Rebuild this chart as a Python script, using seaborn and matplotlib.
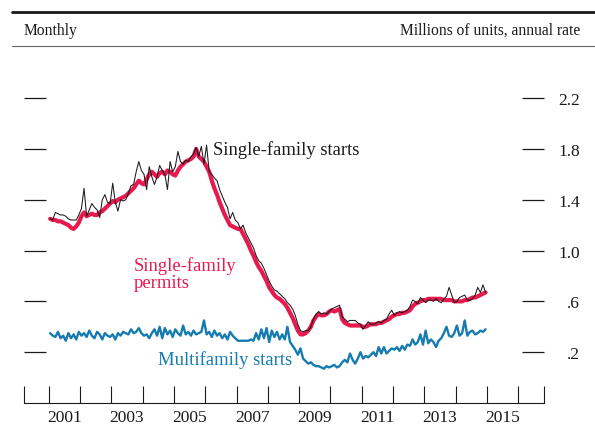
import numpy as np
import pandas as pd
import matplotlib.pyplot as plt
import seaborn as sns
from matplotlib.lines import Line2D

# 数据准备 (monthly, Jan 2001 - Dec 2014, millions of units, annual rate)
years = list(range(2001, 2015))

sf_starts = [
    1.25, 1.24, 1.30, 1.29, 1.28, 1.28, 1.27, 1.25, 1.24, 1.24, 1.24, 1.28,  # 2001
    1.33, 1.49, 1.27, 1.32, 1.37, 1.34, 1.32, 1.26, 1.40, 1.44, 1.38, 1.37,  # 2002
    1.53, 1.38, 1.31, 1.40, 1.39, 1.40, 1.45, 1.51, 1.52, 1.62, 1.70, 1.63,  # 2003
    1.60, 1.48, 1.66, 1.58, 1.52, 1.58, 1.67, 1.63, 1.60, 1.48, 1.70, 1.62,  # 2004
    1.66, 1.78, 1.70, 1.68, 1.71, 1.70, 1.74, 1.76, 1.81, 1.74, 1.82, 1.68,  # 2005
    1.83, 1.62, 1.60, 1.57, 1.55, 1.48, 1.43, 1.38, 1.34, 1.25, 1.30, 1.24,  # 2006
    1.22, 1.17, 1.20, 1.14, 1.10, 1.06, 1.02, 0.96, 0.92, 0.90, 0.86, 0.81,  # 2007
    0.76, 0.72, 0.69, 0.68, 0.66, 0.64, 0.62, 0.59, 0.57, 0.54, 0.49, 0.42,  # 2008
    0.37, 0.36, 0.37, 0.37, 0.40, 0.46, 0.50, 0.52, 0.50, 0.51, 0.50, 0.52,  # 2009
    0.54, 0.55, 0.56, 0.57, 0.48, 0.46, 0.44, 0.45, 0.45, 0.45, 0.43, 0.42,  # 2010
    0.38, 0.41, 0.44, 0.42, 0.42, 0.43, 0.44, 0.43, 0.45, 0.46, 0.50, 0.53,  # 2011
    0.49, 0.51, 0.52, 0.51, 0.52, 0.53, 0.56, 0.61, 0.60, 0.58, 0.63, 0.61,  # 2012
    0.59, 0.61, 0.61, 0.60, 0.62, 0.60, 0.59, 0.62, 0.64, 0.71, 0.65, 0.59,  # 2013
    0.60, 0.63, 0.64, 0.65, 0.61, 0.61, 0.62, 0.65, 0.71, 0.67, 0.73, 0.67,  # 2014
]

sf_permits = [
    1.25, 1.24, 1.24, 1.23, 1.23, 1.22, 1.21, 1.20, 1.18, 1.17, 1.19, 1.22,  # 2001
    1.27, 1.30, 1.27, 1.28, 1.29, 1.28, 1.28, 1.30, 1.31, 1.33, 1.35, 1.37,  # 2002
    1.39, 1.38, 1.40, 1.41, 1.42, 1.43, 1.45, 1.47, 1.49, 1.52, 1.55, 1.53,  # 2003
    1.52, 1.56, 1.60, 1.62, 1.60, 1.58, 1.61, 1.62, 1.60, 1.63, 1.62, 1.60,  # 2004
    1.59, 1.63, 1.66, 1.68, 1.70, 1.71, 1.72, 1.74, 1.80, 1.74, 1.72, 1.70,  # 2005
    1.66, 1.62, 1.55, 1.49, 1.44, 1.38, 1.33, 1.28, 1.24, 1.20, 1.19, 1.18,  # 2006
    1.17, 1.17, 1.13, 1.09, 1.05, 1.00, 0.96, 0.91, 0.87, 0.84, 0.80, 0.76,  # 2007
    0.71, 0.68, 0.65, 0.63, 0.62, 0.60, 0.58, 0.55, 0.51, 0.47, 0.42, 0.37,  # 2008
    0.34, 0.34, 0.35, 0.37, 0.40, 0.45, 0.48, 0.50, 0.49, 0.49, 0.50, 0.52,  # 2009
    0.53, 0.52, 0.53, 0.54, 0.46, 0.43, 0.42, 0.41, 0.41, 0.41, 0.41, 0.41,  # 2010
    0.40, 0.40, 0.41, 0.42, 0.42, 0.42, 0.43, 0.43, 0.44, 0.45, 0.46, 0.48,  # 2011
    0.49, 0.50, 0.50, 0.51, 0.51, 0.52, 0.53, 0.56, 0.58, 0.59, 0.60, 0.61,  # 2012
    0.61, 0.62, 0.62, 0.62, 0.62, 0.62, 0.62, 0.61, 0.61, 0.61, 0.61, 0.60,  # 2013
    0.60, 0.60, 0.60, 0.61, 0.61, 0.62, 0.63, 0.63, 0.64, 0.65, 0.66, 0.67,  # 2014
]

mf_starts = [
    0.35, 0.33, 0.32, 0.36, 0.31, 0.33, 0.29, 0.35, 0.31, 0.34, 0.30, 0.36,  # 2001
    0.33, 0.35, 0.32, 0.37, 0.33, 0.31, 0.36, 0.34, 0.30, 0.35, 0.33, 0.32,  # 2002
    0.34, 0.30, 0.35, 0.33, 0.36, 0.35, 0.34, 0.38, 0.35, 0.36, 0.39, 0.35,  # 2003
    0.33, 0.34, 0.31, 0.35, 0.38, 0.33, 0.40, 0.31, 0.39, 0.34, 0.37, 0.32,  # 2004
    0.38, 0.35, 0.33, 0.41, 0.34, 0.36, 0.33, 0.37, 0.34, 0.35, 0.36, 0.45,  # 2005
    0.34, 0.36, 0.32, 0.37, 0.33, 0.35, 0.31, 0.34, 0.30, 0.36, 0.33, 0.31,  # 2006
    0.29, 0.29, 0.29, 0.29, 0.29, 0.30, 0.29, 0.35, 0.30, 0.38, 0.31, 0.39,  # 2007
    0.28, 0.37, 0.32, 0.36, 0.30, 0.34, 0.30, 0.40, 0.28, 0.25, 0.22, 0.18,  # 2008
    0.23, 0.15, 0.13, 0.11, 0.12, 0.10, 0.09, 0.09, 0.08, 0.07, 0.09, 0.08,  # 2009
    0.09, 0.10, 0.08, 0.09, 0.12, 0.14, 0.12, 0.19, 0.14, 0.11, 0.15, 0.20,  # 2010
    0.15, 0.17, 0.16, 0.18, 0.20, 0.17, 0.24, 0.19, 0.24, 0.19, 0.21, 0.23,  # 2011
    0.22, 0.24, 0.21, 0.25, 0.22, 0.26, 0.25, 0.30, 0.26, 0.28, 0.34, 0.26,  # 2012
    0.37, 0.27, 0.30, 0.28, 0.24, 0.29, 0.31, 0.35, 0.40, 0.33, 0.32, 0.35,  # 2013
    0.41, 0.33, 0.35, 0.45, 0.33, 0.36, 0.37, 0.34, 0.35, 0.37, 0.36, 0.38,  # 2014
]

y_ticks = [0.2, 0.6, 1.0, 1.4, 1.8, 2.2]
y_tick_labels = [".2", ".6", "1.0", "1.4", "1.8", "2.2"]
x_label_years = [2001, 2003, 2005, 2007, 2009, 2011, 2013, 2015]

RED = "#E8194F"
BLUE = "#157BB0"
BLACK = "#1a1a1a"

# 时间轴 (mid-month)
t = [y + (m + 0.5) / 12 for y in years for m in range(12)]
df = pd.DataFrame({"t": t, "starts": sf_starts, "permits": sf_permits, "multi": mf_starts})

sns.set_style("white")
plt.rcParams["font.family"] = ["Liberation Serif", "DejaVu Serif"]
plt.rcParams["font.size"] = 12.5

fig = plt.figure(figsize=(5.95, 4.31), dpi=100)
ax = fig.add_axes([0.040, 0.0626, 0.874, 0.796])

sns.lineplot(data=df, x="t", y="permits", color=RED, lw=3.0, ax=ax)
sns.lineplot(data=df, x="t", y="starts", color=BLACK, lw=0.75, ax=ax)
sns.lineplot(data=df, x="t", y="multi", color=BLUE, lw=1.7, ax=ax)

x0, x1 = 2000.2, 2016.82
ax.set_xlim(x0, x1)
ax.set_ylim(-0.2, 2.5)
ax.set_xlabel("")
ax.set_ylabel("")

for s in ["top", "left", "right"]:
    ax.spines[s].set_visible(False)
ax.spines["bottom"].set_color(BLACK)
ax.spines["bottom"].set_linewidth(0.8)

# x 轴: 年份刻度 + 居中标签
ax.set_xticks([x0] + list(range(2001, 2017)) + [x1])
ax.set_xticklabels([])
ax.set_xticks([y + 0.5 for y in x_label_years], minor=True)
ax.set_xticklabels([str(y) for y in x_label_years], minor=True)
ax.tick_params(axis="x", which="major", bottom=True, direction="in", length=12,
               width=0.8, color=BLACK)
ax.tick_params(axis="x", which="minor", bottom=True, length=0, pad=4, labelsize=12.5,
               labelcolor=BLACK)

# y 轴: 两侧内刻度, 右侧标签
ax.set_yticks(y_ticks)
ax.set_yticklabels(y_tick_labels)
ax.tick_params(axis="y", direction="in", length=16, width=0.9, color=BLACK,
               left=True, right=True, labelleft=False, labelright=True,
               pad=26, labelsize=12.5, labelcolor=BLACK)
for lab in ax.get_yticklabels():
    lab.set_horizontalalignment("right")

ax.text(2006.24, 1.80, "Single-family starts", color=BLACK, va="center", ha="left",
        fontsize=13.4)
ax.text(2003.72, 0.82, "Single-family\npermits", color=RED, va="center", ha="left",
        linespacing=1.0, fontsize=13.4)
ax.text(2004.49, 0.147, "Multifamily starts", color=BLUE, va="center", ha="left",
        fontsize=13.4)

# 表头
fig.add_artist(Line2D([12 / 595, 1], [1 - 13 / 431] * 2, transform=fig.transFigure,
                      color=BLACK, lw=2.0))
fig.add_artist(Line2D([12 / 595, 1], [1 - 47 / 431] * 2, transform=fig.transFigure,
                      color="#666666", lw=0.8))
fig.text(23.6 / 595, 1 - 31 / 431, "Monthly", va="center", ha="left", color=BLACK,
         fontsize=11.2)
fig.text(580 / 595, 1 - 31 / 431, "Millions of units, annual rate", va="center",
         ha="right", color=BLACK, fontsize=11.2)

fig.savefig("out.png", dpi=100)
